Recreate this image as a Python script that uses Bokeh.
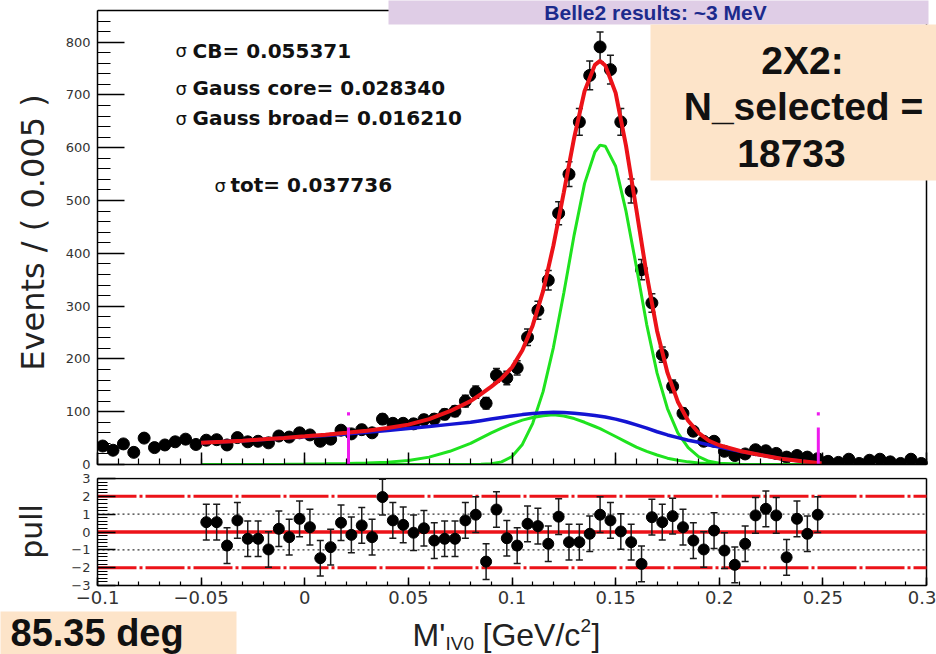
import math
from bokeh.plotting import figure
from bokeh.models import (Range1d, FixedTicker, BoxAnnotation, Label, Whisker,
                          TeeHead, ColumnDataSource)
from bokeh.layouts import column, row
from bokeh.embed import file_html
from bokeh.resources import INLINE

# ---------------- data ----------------
x_min, x_max = -0.1, 0.3
y_top_max = 860
pull_min, pull_max = -3, 3
bin_width = 0.005
counts = [35, 27, 39, 23, 50, 32, 37, 43, 48, 38,
          46, 47, 37, 51, 43, 44, 41, 54, 52, 60,
          56, 44, 48, 65, 58, 66, 60, 86, 78, 78,
          77, 85, 86, 95, 101, 120, 137, 116, 169, 164,
          183, 241, 292, 349, 476, 550, 649, 737, 791, 748,
          649, 518, 369, 306, 208, 148, 97, 63, 44, 44,
          25, 17, 20, 28, 26, 21, 14, 17, 14, 11,
          6, 4, 10, 2, 8, 10, 5, 2, 10, 2]

pull_first_bin = 10
pulls = [0.55, 0.55, -0.76, 0.65, -0.38, -0.38, -0.98, 0.18, -0.29, 0.74,
         0.27, -1.47, -0.85, 0.52, -0.16, 0.37, -0.29, 1.96, 0.65, 0.40,
         -0.04, 0.21, -0.48, -0.38, -0.38, 0.65, 0.97, -1.66, 1.26, -0.35,
         -0.76, 0.46, 0.33, -0.66, 0.86, -0.57, -0.57, -0.10, 0.97, 0.65,
         0.03, -0.57, -1.79, 0.83, 0.55, 0.89, 0.27, -0.48, -0.98, 0.08,
         -1.04, -1.84, -0.66, 0.93, 1.30, 0.93, -1.42, 0.74, -0.10, 0.97]

curve_x = [-0.05, -0.04, -0.03, -0.02, -0.01, 0.0, 0.01, 0.02, 0.03, 0.04,
           0.05, 0.06, 0.07, 0.08, 0.085, 0.09, 0.095, 0.1, 0.105, 0.11,
           0.115, 0.12, 0.125, 0.13, 0.135, 0.14, 0.1425, 0.145, 0.15, 0.155,
           0.16, 0.165, 0.17, 0.175, 0.18, 0.185, 0.19, 0.195, 0.2, 0.21,
           0.22, 0.23, 0.24, 0.25]
curve_total = [41, 43, 45.1, 47.7, 50.4, 53.3, 56.3, 60, 64, 69,
               75.5, 86, 101, 120, 133.3, 147.5, 163, 184, 216.5, 263.5,
               328.5, 415, 515.5, 619, 707, 757, 764.5, 756, 704, 604,
               483, 359, 253, 174, 119, 83, 60, 45, 36.5, 25.7,
               18.1, 11, 6, 2]
curve_cb = [41, 43, 45, 47.5, 50, 52.5, 55, 58, 61, 64.5,
            68, 72, 76, 80, 83, 86, 89, 92, 94.5, 96.5,
            98, 99, 98.5, 97, 95, 93, 91.5, 90, 86, 81,
            75, 69, 62, 56, 51, 46, 42, 37, 33, 25,
            18, 11, 6, 2]
curve_gauss_broad = [0, 0, 0.1, 0.2, 0.4, 0.8, 1.3, 2, 3, 4.5,
                     7.5, 14, 25, 40, 50, 60, 69, 77, 84, 89,
                     92.5, 94, 92, 87, 80, 72, 68, 63, 53, 43,
                     33, 25, 18, 12, 8, 5, 3, 2, 1, 0.4,
                     0.1, 0, 0, 0]
curve_gauss_core = [0, 0, 0, 0, 0, 0, 0, 0, 0, 0,
                    0, 0, 0, 0, 0.3, 1.5, 5, 15, 38, 78,
                    138, 222, 325, 435, 532, 592, 605, 603, 565, 480,
                    375, 265, 173, 106, 60, 32, 15, 6, 2.5, 0.3,
                    0, 0, 0, 0]

marker_x = [0.0211, 0.2478]
marker_top = 99

y_ticks = [0, 100, 200, 300, 400, 500, 600, 700, 800]
x_ticks = [-0.1, -0.05, 0.0, 0.05, 0.1, 0.15, 0.2, 0.25, 0.3]
x_tick_labels = ["\u22120.1", "\u22120.05", "0", "0.05", "0.1", "0.15", "0.2", "0.25", "0.3"]
pull_ticks = [-3, -2, -1, 0, 1, 2, 3]
pull_tick_labels = ["\u22123", "\u22122", "\u22121", "0", "1", "2", "3"]
pull_ref_dashdot = [-2, 2]
pull_ref_dotted = [-1, 1]

fit_texts = ["CB= 0.055371", "Gauss core= 0.028340", "Gauss broad= 0.016210"]
tot_text = "tot= 0.037736"

# ---------------- derived ----------------
centers = [round(x_min + bin_width * (i + 0.5), 5) for i in range(len(counts))]
errs = [math.sqrt(c) for c in counts]
pull_x = centers[pull_first_bin:pull_first_bin + len(pulls)]

RED = "#ec1218"
GREEN = "#1fe31f"
BLUE = "#1414d2"
MAGENTA = "#ee1aee"
AXFONT = "DejaVu Sans"
W = 936

# pixel helpers (annotation placement only)
PX_PER_X = 2072.5            # horizontal scale of both panels
TOP_PX_PER_Y = 454.0 / 860   # top panel vertical scale
PULL_PX_PER_Y = 107.0 / 6    # pull panel vertical scale


def px2x(px):
    return x_min + (px - 97) / PX_PER_X


def py2y_top(py):
    return (464 - py) / TOP_PX_PER_Y


def style_axis(ax):
    ax.axis_line_color = "black"
    ax.axis_line_width = 1.5
    ax.major_tick_line_color = "black"
    ax.minor_tick_line_color = "black"
    ax.major_tick_line_width = 1.5
    ax.minor_tick_line_width = 1.2
    ax.major_tick_out = 0
    ax.minor_tick_out = 0


x_minor = [round(-0.1 + 0.01 * i, 3) for i in range(41)]

# ---------------- top panel ----------------
H1 = 471
p1 = figure(width=W, height=H1,
            x_range=Range1d(x_min, px2x(936)), y_range=Range1d(0, py2y_top(0)),
            output_backend="svg", toolbar_location=None,
            min_border_left=97, min_border_right=0, min_border_top=0, min_border_bottom=7)
p1.xgrid.visible = False
p1.ygrid.visible = False
p1.outline_line_color = None

p1.xaxis.ticker = FixedTicker(ticks=x_ticks, minor_ticks=x_minor)
p1.yaxis.ticker = FixedTicker(ticks=y_ticks, minor_ticks=list(range(0, y_top_max + 1, 20)))
p1.xaxis.bounds = (x_min, x_max)
p1.yaxis.bounds = (0, y_top_max)
style_axis(p1.xaxis[0])
style_axis(p1.yaxis[0])
p1.xaxis.major_tick_in = 12
p1.xaxis.minor_tick_in = 6
p1.xaxis.major_label_text_color = None
p1.xaxis.major_label_text_font_size = "4px"
p1.xaxis.major_label_standoff = 0
p1.yaxis.major_tick_in = 27
p1.yaxis.minor_tick_in = 13
p1.yaxis.major_label_text_font = AXFONT
p1.yaxis.major_label_text_font_size = "13px"
p1.yaxis.major_label_text_color = "#333333"
p1.yaxis.major_label_standoff = 7
p1.yaxis.axis_label = "Events / ( 0.005 )"
p1.yaxis.axis_label_text_font = AXFONT
p1.yaxis.axis_label_text_font_size = "32px"
p1.yaxis.axis_label_text_font_style = "normal"
p1.yaxis.axis_label_text_color = "#222222"
p1.yaxis.axis_label_standoff = 11

# frame top and right edges
p1.segment(x0=[x_min, x_max], y0=[y_top_max, 0], x1=[x_max, x_max], y1=[y_top_max, y_top_max],
           line_color="black", line_width=1.5)

src = ColumnDataSource(dict(x=centers, y=counts,
                            lo=[c - e for c, e in zip(counts, errs)],
                            hi=[c + e for c, e in zip(counts, errs)]))
p1.add_layout(Whisker(source=src, base="x", lower="lo", upper="hi",
                      line_color="#1a1a1a", line_width=1.5,
                      upper_head=TeeHead(size=7, line_color="#1a1a1a", line_width=1.5),
                      lower_head=TeeHead(size=7, line_color="#1a1a1a", line_width=1.5)))
p1.scatter("x", "y", source=src, size=12, color="black")

p1.line(curve_x, curve_gauss_broad, line_color=GREEN, line_width=3)
p1.line(curve_x, curve_gauss_core, line_color=GREEN, line_width=3)
p1.line(curve_x, curve_cb, line_color=BLUE, line_width=3.5)
p1.line(curve_x, curve_total, line_color=RED, line_width=4)
p1.segment(x0=marker_x, y0=[0] * len(marker_x), x1=marker_x, y1=[marker_top] * len(marker_x),
           line_color=MAGENTA, line_width=3, line_dash="37 12 4 60")

# fit-parameter texts
for txt, cy in zip(fit_texts, (50, 87.5, 117.5)):
    p1.add_layout(Label(x=px2x(175), y=py2y_top(cy), text="\u03c3", text_font=AXFONT,
                        text_font_size="18px", text_color="#111111", text_baseline="middle"))
    p1.add_layout(Label(x=px2x(192), y=py2y_top(cy), text=txt, text_font=AXFONT,
                        text_font_size="20px", text_font_style="bold", text_color="#111111",
                        text_baseline="middle"))
p1.add_layout(Label(x=px2x(214), y=py2y_top(184.5), text="\u03c3", text_font=AXFONT,
                    text_font_size="18px", text_color="#111111", text_baseline="middle"))
p1.add_layout(Label(x=px2x(230), y=py2y_top(184.5), text=tot_text, text_font=AXFONT,
                    text_font_size="20px", text_font_style="bold", text_color="#111111",
                    text_baseline="middle"))

# overlay boxes on top panel
p1.add_layout(BoxAnnotation(left=px2x(388), right=px2x(928), bottom=py2y_top(24), top=py2y_top(-20),
                            fill_color="#dfcde6", fill_alpha=1, line_alpha=0, level="overlay"))
p1.add_layout(Label(x=px2x(655), y=py2y_top(12), text="Belle2 results: ~3 MeV",
                    text_font="Liberation Sans", text_font_size="21px", text_font_style="bold",
                    text_color="#1c2a8c", text_align="center", text_baseline="middle",
                    level="overlay"))
p1.add_layout(BoxAnnotation(left=px2x(650), right=px2x(945), bottom=py2y_top(180), top=py2y_top(24),
                            fill_color="#fde4c9", fill_alpha=1, line_alpha=0, level="overlay"))
for txt, cx, cy in (("2X2:", 802, 59.5), ("N_selected =", 803, 105.5), ("18733", 791, 152.5)):
    p1.add_layout(Label(x=px2x(cx), y=py2y_top(cy), text=txt, text_font="Liberation Sans",
                        text_font_size="39px", text_font_style="bold", text_color="#111111",
                        text_align="center", text_baseline="middle", level="overlay"))

# ---------------- pull panel ----------------
H2 = 140
p2 = figure(width=W, height=H2, x_range=Range1d(x_min, px2x(936)),
            y_range=Range1d(pull_min, pull_max + 1.0 / PULL_PX_PER_Y),
            output_backend="svg", toolbar_location=None,
            min_border_left=97, min_border_right=0, min_border_top=6, min_border_bottom=26)
p2.xgrid.visible = False
p2.ygrid.visible = False
p2.outline_line_color = None
p2.xaxis.ticker = FixedTicker(ticks=x_ticks, minor_ticks=x_minor)
p2.yaxis.ticker = FixedTicker(ticks=pull_ticks, minor_ticks=[round(-3 + 0.2 * i, 2) for i in range(31)])
p2.xaxis.bounds = (x_min, x_max)
p2.yaxis.bounds = (pull_min, pull_max)
p2.xaxis.major_label_overrides = {float(v): s for v, s in zip(x_ticks, x_tick_labels)}
p2.yaxis.major_label_overrides = {v: s for v, s in zip(pull_ticks, pull_tick_labels)}
for ax in (p2.xaxis[0], p2.yaxis[0]):
    style_axis(ax)
    ax.major_label_text_font = AXFONT
    ax.major_label_text_color = "#333333"
p2.xaxis.major_tick_in = 8
p2.xaxis.minor_tick_in = 4
p2.xaxis.major_label_text_font_size = "18px"
p2.xaxis.major_label_standoff = 5
p2.yaxis.major_tick_in = 18
p2.yaxis.minor_tick_in = 10
p2.yaxis.major_label_text_font_size = "13px"
p2.yaxis.major_label_standoff = 7
p2.yaxis.axis_label = "pull"
p2.yaxis.axis_label_text_font = AXFONT
p2.yaxis.axis_label_text_font_size = "30px"
p2.yaxis.axis_label_text_font_style = "normal"
p2.yaxis.axis_label_text_color = "#222222"
p2.yaxis.axis_label_standoff = 19

# frame top and right edges
p2.segment(x0=[x_min, x_max], y0=[pull_max, pull_min], x1=[x_max, x_max], y1=[pull_max, pull_max],
           line_color="black", line_width=1.5)
# reference lines
n_dd = len(pull_ref_dashdot)
p2.segment(x0=[x_min] * n_dd, y0=pull_ref_dashdot, x1=[x_max] * n_dd, y1=pull_ref_dashdot,
           line_color=RED, line_width=3, line_dash="39 3 3 3")
n_dt = len(pull_ref_dotted)
p2.segment(x0=[x_min] * n_dt, y0=pull_ref_dotted, x1=[x_max] * n_dt, y1=pull_ref_dotted,
           line_color="#333333", line_width=1.3, line_dash="2 3")
p2.segment(x0=[x_min], y0=[0], x1=[x_max], y1=[0], line_color=RED, line_width=3.5)

psrc = ColumnDataSource(dict(x=pull_x, y=pulls,
                             lo=[v - 1 for v in pulls], hi=[v + 1 for v in pulls]))
p2.add_layout(Whisker(source=psrc, base="x", lower="lo", upper="hi",
                      line_color="#1a1a1a", line_width=1.5, level="glyph",
                      upper_head=TeeHead(size=7, line_color="#1a1a1a", line_width=1.5),
                      lower_head=TeeHead(size=7, line_color="#1a1a1a", line_width=1.5)))
p2.scatter("x", "y", source=psrc, size=11, color="black", level="overlay")

# ---------------- bottom strip: x-axis title and angle box ----------------
H3 = 654 - H1 - H2   # 43 px; coordinates: x = pixel, y = pixels above the bottom edge
p3 = figure(width=W, height=H3, x_range=Range1d(0, W), y_range=Range1d(0, H3),
            x_axis_type=None, y_axis_type=None, output_backend="svg", toolbar_location=None,
            min_border_left=0, min_border_right=0, min_border_top=0, min_border_bottom=0)
p3.outline_line_color = None
p3.grid.visible = False

p3.add_layout(BoxAnnotation(left=-5, right=236, bottom=-10, top=H3 + 5,
                            fill_color="#fde4c9", fill_alpha=1, line_alpha=0))
p3.add_layout(Label(x=10, y=654 - 632.5, text="85.35 deg", text_font="Liberation Sans",
                    text_font_size="38px", text_font_style="bold", text_color="#111111",
                    text_baseline="middle"))
for txt, lx, cy, fs in (("M'", 412, 634, "32px"), ("IV0", 445, 642.5, "19px"),
                        ("[GeV/c", 482, 634, "32px"), ("2", 580, 625, "19px"),
                        ("]", 591, 634, "32px")):
    p3.add_layout(Label(x=lx, y=654 - cy, text=txt, text_font="Liberation Sans", text_font_size=fs,
                        text_color="#222222", text_baseline="middle"))

layout = column(column(p1, p2, spacing=0), row(p3), spacing=0)
open("out.html", "w").write(file_html(layout, INLINE))
